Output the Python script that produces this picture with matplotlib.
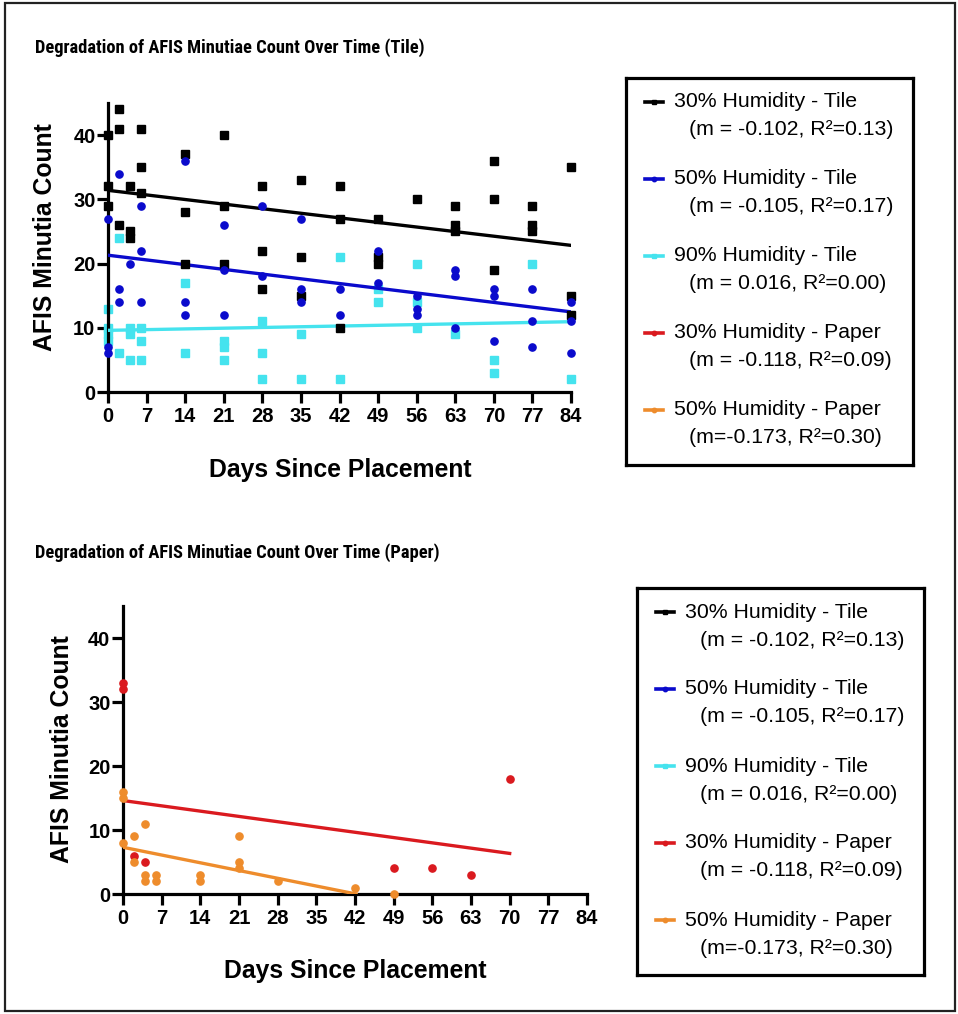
import matplotlib
matplotlib.use("Agg")
import matplotlib.pyplot as plt
from matplotlib.patches import Rectangle
import numpy as np

W, H = 958, 1014

# ---- data ----
tile30_days = [0, 0, 0, 2, 2, 2, 4, 4, 4, 6, 6, 6, 14, 14, 14, 21, 21, 21, 28, 28, 28,
               35, 35, 35, 42, 42, 42, 49, 49, 49, 56, 63, 63, 63, 70, 70, 70, 77, 77, 77,
               84, 84, 84]
tile30_vals = [40, 32, 29, 44, 41, 26, 32, 25, 24, 41, 35, 31, 37, 28, 20, 40, 29, 20, 32, 22, 16,
               33, 21, 15, 32, 27, 10, 27, 21, 20, 30, 29, 26, 25, 36, 30, 19, 29, 26, 25,
               35, 15, 12]

tile50_days = [0, 0, 0, 2, 2, 2, 4, 6, 6, 6, 14, 14, 14, 21, 21, 21, 28, 28, 35, 35, 35,
               42, 42, 49, 49, 56, 56, 56, 63, 63, 63, 70, 70, 70, 77, 77, 77, 84, 84, 84]
tile50_vals = [27, 7, 6, 34, 16, 14, 20, 29, 22, 14, 36, 14, 12, 26, 19, 12, 29, 18, 27, 16, 14,
               16, 12, 22, 17, 15, 13, 12, 19, 18, 10, 16, 15, 8, 16, 11, 7, 14, 11, 6]

tile90_days = [0, 0, 0, 0, 2, 2, 4, 4, 4, 6, 6, 6, 14, 14, 21, 21, 21, 28, 28, 28, 35, 35,
               42, 42, 49, 49, 56, 56, 56, 63, 70, 70, 77, 84]
tile90_vals = [13, 10, 9, 8, 24, 6, 10, 9, 5, 10, 8, 5, 17, 6, 8, 7, 5, 11, 6, 2, 9, 2,
               21, 2, 16, 14, 20, 14, 10, 9, 5, 3, 20, 2]

paper30_days = [0, 0, 2, 4, 49, 56, 63, 70]
paper30_vals = [33, 32, 6, 5, 4, 4, 3, 18]

paper50_days = [0, 0, 0, 2, 2, 4, 4, 4, 6, 6, 14, 14, 21, 21, 21, 28, 42, 49]
paper50_vals = [16, 15, 8, 9, 5, 11, 3, 2, 3, 2, 3, 2, 9, 5, 4, 2, 1, 0]

# fitted lines: slope, intercept, last day of fit
slopes = [-0.102, -0.105, 0.016, -0.118, -0.173]
intercepts = [31.4, 21.3, 9.6, 14.6, 7.3]
fit_end = [84, 84, 84, 70, 42.2]

series_names = ["30% Humidity - Tile", "50% Humidity - Tile", "90% Humidity - Tile",
                "30% Humidity - Paper", "50% Humidity - Paper"]
fit_text = ["(m = -0.102, R²=0.13)", "(m = -0.105, R²=0.17)", "(m = 0.016, R²=0.00)",
            "(m = -0.118, R²=0.09)", "(m=-0.173, R²=0.30)"]

colors = ["#000000", "#0A0ACC", "#45E3EE", "#DA1A1F", "#EE8C2C"]
markers = ["s", "o", "s", "o", "o"]

x_ticks = list(range(0, 85, 7))
y_ticks = [0, 10, 20, 30, 40]

title_font = ["Roboto Condensed", "Liberation Sans"]
bold_font = ["Liberation Sans"]
plain_font = ["Liberation Sans"]


def frac(x0, y0, x1, y1):
    # pixel box (top-left origin) -> figure fraction rect
    return [x0 / W, 1 - y1 / H, (x1 - x0) / W, (y1 - y0) / H]


fig = plt.figure(figsize=(W / 100, H / 100), dpi=100)

# outer frame
fig.patches.append(Rectangle((5 / W, 3 / H), 950 / W, 1008 / H, transform=fig.transFigure,
                             fill=False, lw=1.6, edgecolor="#222222"))


def style_axes(ax, xlab_pos, ylab_pos):
    ax.set_xlim(0, 84)
    ax.set_ylim(0, 45)
    for s in ["top", "right"]:
        ax.spines[s].set_visible(False)
    for s in ["left", "bottom"]:
        ax.spines[s].set_linewidth(2.3)
    ax.set_xticks(x_ticks)
    ax.set_yticks(y_ticks)
    ax.tick_params(width=2.3, length=8, labelsize=14.5)
    ax.tick_params(axis="y", pad=1)
    ax.tick_params(axis="x", pad=3)
    for lab in ax.get_xticklabels() + ax.get_yticklabels():
        lab.set_fontfamily(bold_font)
        lab.set_fontweight("bold")
    ax.set_xlabel("Days Since Placement", fontsize=17.8, fontweight="bold", family=bold_font)
    ax.set_ylabel("AFIS Minutia Count", fontsize=17.8, fontweight="bold", family=bold_font)
    ax.xaxis.set_label_coords(*xlab_pos)
    ax.yaxis.set_label_coords(*ylab_pos)


def fit_line(ax, i):
    xs = np.array([0, fit_end[i]])
    ax.plot(xs, slopes[i] * xs + intercepts[i], color=colors[i], lw=2.4, zorder=3)


def draw_legend(box):
    x0, y0, x1, y1 = box
    lax = fig.add_axes(frac(x0, y0, x1, y1))
    lax.set_xlim(0, x1 - x0)
    lax.set_ylim(y1 - y0, 0)
    lax.set_xticks([])
    lax.set_yticks([])
    for s in lax.spines.values():
        s.set_linewidth(2.3)
    for i in range(5):
        yy = 24 + 77 * i
        lax.plot([19, 37], [yy, yy], color=colors[i], lw=2.6)
        lax.plot([28], [yy], marker=markers[i] if i < 3 else "o", ms=3.2, color=colors[i])
        lax.text(48, yy, series_names[i], fontsize=15.3, family=plain_font, va="center")
        lax.text(63, yy + 28, fit_text[i], fontsize=15.3, family=plain_font, va="center")


# ---- top: tile ----
ax1 = fig.add_axes(frac(108, 103, 571, 392))
style_axes(ax1, ((340 - 108) / 463, (392 - 458) / 289), ((57 - 108) / 463, (392 - 237) / 289))
tile_sets = [(tile30_days, tile30_vals), (tile50_days, tile50_vals), (tile90_days, tile90_vals)]
for i, (d, v) in enumerate(tile_sets):
    ax1.plot(d, v, ls="none", marker=markers[i], ms=5.2, color=colors[i], clip_on=False,
             zorder=4 if i != 2 else 2)
    fit_line(ax1, i)

# ---- bottom: paper ----
ax2 = fig.add_axes(frac(123, 606, 587, 894))
style_axes(ax2, ((355 - 123) / 464, (894 - 959) / 288), ((74 - 123) / 464, (894 - 749) / 288))
paper_sets = [(paper30_days, paper30_vals), (paper50_days, paper50_vals)]
for j, (d, v) in enumerate(paper_sets):
    i = j + 3
    ax2.plot(d, v, ls="none", marker="o", ms=5.2, color=colors[i], clip_on=False, zorder=4)
    fit_line(ax2, i)

fig.text(35 / W, 1 - 48 / H, "Degradation of AFIS Minutiae Count Over Time (Tile)",
         fontsize=13.3, fontweight="bold", family=title_font, va="center")
fig.text(35 / W, 1 - 553 / H, "Degradation of AFIS Minutiae Count Over Time (Paper)",
         fontsize=13.3, fontweight="bold", family=title_font, va="center")

draw_legend((626, 77.5, 913, 465))
draw_legend((637, 588, 924, 975))

fig.savefig("out.png", dpi=100)
